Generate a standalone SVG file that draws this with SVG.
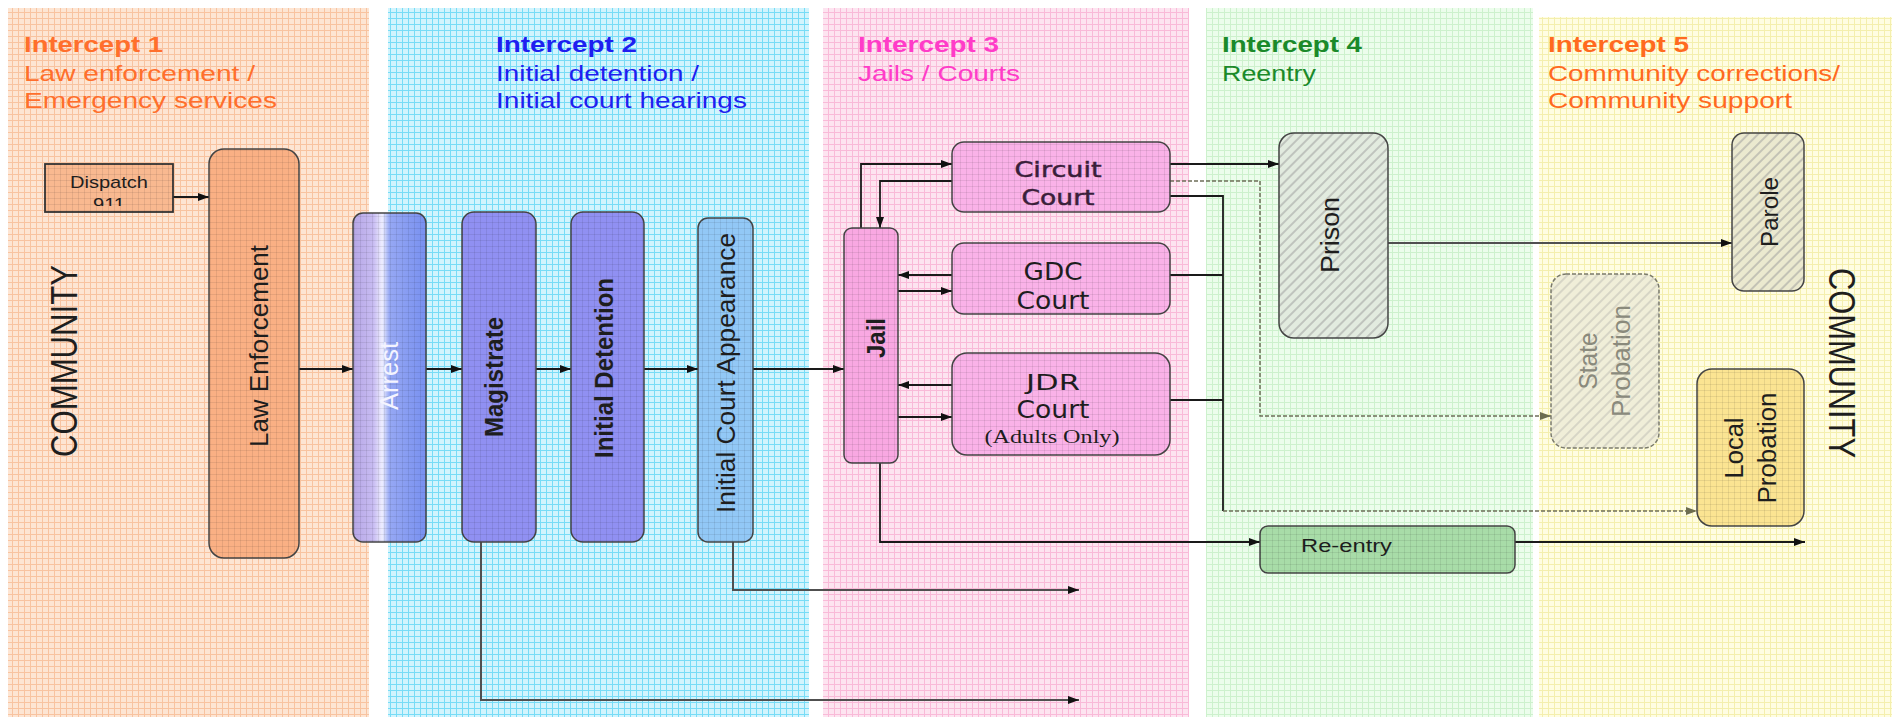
<svg xmlns="http://www.w3.org/2000/svg" width="1892" height="720" viewBox="0 0 1892 720">
<style>
.t{font-family:"Liberation Sans",Arial,sans-serif}
.d{font-family:"DejaVu Sans","Liberation Sans",sans-serif}
.s{font-family:"Liberation Serif","Times New Roman",serif}
.h{font-size:22px}
.b{font-weight:bold}
.nd{stroke:#444;stroke-width:1.5}
.ov{fill:url(#gov);stroke:none}
.hx{fill:url(#hatch);stroke:none}
.c{fill:none;stroke:#1a1a1a;stroke-width:1.8}
.cl{fill:none;stroke:#505050;stroke-width:2}
.cg{fill:none;stroke:#6d6d58;stroke-width:1.5;stroke-dasharray:4 2}
.tx{fill:#1e1e1e}
</style>
<defs>
<pattern id="gO" width="6" height="6" patternUnits="userSpaceOnUse"><rect width="6" height="6" fill="#fde5d3"/><path d="M0,0.5H6M0.5,0V6" stroke="#f8c3a0" stroke-width="1"/></pattern>
<pattern id="gC" width="6" height="6" patternUnits="userSpaceOnUse"><rect width="6" height="6" fill="#d2f4fd"/><path d="M0,0.5H6M0.5,0V6" stroke="#78dcf6" stroke-width="1"/></pattern>
<pattern id="gP" width="6" height="6" patternUnits="userSpaceOnUse"><rect width="6" height="6" fill="#fde4f0"/><path d="M0,0.5H6M0.5,0V6" stroke="#f9bad8" stroke-width="1"/></pattern>
<pattern id="gG" width="6" height="6" patternUnits="userSpaceOnUse"><rect width="6" height="6" fill="#ecfdec"/><path d="M0,0.5H6M0.5,0V6" stroke="#cdf1cd" stroke-width="1"/></pattern>
<pattern id="gY" width="6" height="6" patternUnits="userSpaceOnUse"><rect width="6" height="6" fill="#fffde2"/><path d="M0,0.5H6M0.5,0V6" stroke="#f4efae" stroke-width="1"/></pattern>
<pattern id="gov" width="6" height="6" patternUnits="userSpaceOnUse"><path d="M0,0.5H6M0.5,0V6" stroke="#000" stroke-opacity="0.08" stroke-width="1"/></pattern>
<pattern id="hatch" width="7" height="7" patternUnits="userSpaceOnUse" patternTransform="rotate(45)"><line x1="1" y1="0" x2="1" y2="7" stroke="#9c9c9c" stroke-width="1"/></pattern>
<linearGradient id="gArrest" x1="0" x2="1" y1="0" y2="0">
<stop offset="0" stop-color="#b6a6e6"/>
<stop offset="0.28" stop-color="#c8bcf2"/>
<stop offset="0.4" stop-color="#eeeeff"/>
<stop offset="0.5" stop-color="#96a8f4"/>
<stop offset="1" stop-color="#7890f0"/>
</linearGradient>
<clipPath id="clipD"><rect x="46" y="165" width="126" height="41"/></clipPath>
<marker id="ah" viewBox="0 0 11 8" refX="11" refY="4" markerWidth="11" markerHeight="8" markerUnits="userSpaceOnUse" orient="auto"><path d="M0,0L11,4L0,8z" fill="#111"/></marker>
<marker id="ahg" viewBox="0 0 11 8" refX="11" refY="4" markerWidth="11" markerHeight="8" markerUnits="userSpaceOnUse" orient="auto"><path d="M0,0L11,4L0,8z" fill="#6d6d50"/></marker>
</defs>

<rect width="1892" height="720" fill="#fff"/>

<g id="bands">
<rect x="8" y="8" width="361" height="709" fill="url(#gO)"/>
<rect x="388" y="8" width="421" height="709" fill="url(#gC)"/>
<rect x="823" y="8" width="366" height="709" fill="url(#gP)"/>
<rect x="1206" y="8" width="327" height="709" fill="url(#gG)"/>
<rect x="1539" y="17" width="353" height="700" fill="url(#gY)"/>
</g>

<g id="headings" class="t h">
<text x="24" y="52" class="b" fill="#ff6f2c" textLength="139" lengthAdjust="spacingAndGlyphs">Intercept 1</text>
<text x="24" y="81" fill="#ff6f2c" textLength="231" lengthAdjust="spacingAndGlyphs">Law enforcement /</text>
<text x="24" y="108" fill="#ff6f2c" textLength="253" lengthAdjust="spacingAndGlyphs">Emergency services</text>
<text x="496" y="52" class="b" fill="#1f1ff0" textLength="141" lengthAdjust="spacingAndGlyphs">Intercept 2</text>
<text x="496" y="81" fill="#1f1ff0" textLength="203" lengthAdjust="spacingAndGlyphs">Initial detention /</text>
<text x="496" y="108" fill="#1f1ff0" textLength="251" lengthAdjust="spacingAndGlyphs">Initial court hearings</text>
<text x="858" y="52" class="b" fill="#ff3cc8" textLength="141" lengthAdjust="spacingAndGlyphs">Intercept 3</text>
<text x="858" y="81" fill="#ff3cc8" textLength="162" lengthAdjust="spacingAndGlyphs">Jails / Courts</text>
<text x="1222" y="52" class="b" fill="#1b8a2a" textLength="140" lengthAdjust="spacingAndGlyphs">Intercept 4</text>
<text x="1222" y="81" fill="#1b8a2a" textLength="94" lengthAdjust="spacingAndGlyphs">Reentry</text>
<text x="1548" y="52" class="b" fill="#ff6a1f" textLength="141" lengthAdjust="spacingAndGlyphs">Intercept 5</text>
<text x="1548" y="81" fill="#ff6a1f" textLength="292" lengthAdjust="spacingAndGlyphs">Community corrections/</text>
<text x="1548" y="108" fill="#ff6a1f" textLength="244" lengthAdjust="spacingAndGlyphs">Community support</text>
</g>

<g id="community-left"><text class="t tx" font-size="37" text-anchor="middle" transform="translate(77,361) rotate(-90)" textLength="192" lengthAdjust="spacingAndGlyphs">COMMUNITY</text></g>
<g id="community-right"><text class="t tx" font-size="37" text-anchor="middle" transform="translate(1829,363) rotate(90)" textLength="190" lengthAdjust="spacingAndGlyphs">COMMUNITY</text></g>

<g id="connectors">
<path class="c" d="M173,197H209" marker-end="url(#ah)"/>
<path class="c" d="M299,369H353" marker-end="url(#ah)"/>
<path class="c" d="M426,369H462" marker-end="url(#ah)"/>
<path class="c" d="M536,369H571" marker-end="url(#ah)"/>
<path class="c" d="M644,369H698" marker-end="url(#ah)"/>
<path class="c" d="M753,369H844" marker-end="url(#ah)"/>
<path class="c" d="M861,228V164H952" marker-end="url(#ah)"/>
<path class="c" d="M952,181H880V228" marker-end="url(#ah)"/>
<path class="c" d="M952,275H898" marker-end="url(#ah)"/>
<path class="c" d="M898,291H952" marker-end="url(#ah)"/>
<path class="c" d="M952,385H898" marker-end="url(#ah)"/>
<path class="c" d="M898,417H952" marker-end="url(#ah)"/>
<path class="c" d="M1170,164H1279" marker-end="url(#ah)"/>
<path class="cg" d="M1170,181H1260V416H1551" marker-end="url(#ahg)"/>
<path class="c" d="M1170,196H1223V511"/>
<path class="c" d="M1170,275H1223"/>
<path class="c" d="M1170,400H1223"/>
<path class="cg" d="M1223,511H1697" marker-end="url(#ahg)"/>
<path class="cl" d="M1388,243H1732" marker-end="url(#ah)"/>
<path class="c" d="M880,463V542H1260" marker-end="url(#ah)"/>
<path class="c" d="M1515,542H1805" marker-end="url(#ah)"/>
<path class="cl" d="M733,542V590H1079" marker-end="url(#ah)"/>
<path class="cl" d="M481,542V700H1079" marker-end="url(#ah)"/>
</g>

<g id="dispatch-911">
<rect x="45" y="164" width="128" height="48" fill="#f9b990" stroke="#333" stroke-width="1.8"/>
<rect x="45" y="164" width="128" height="48" class="ov"/>
<text class="t tx" x="109" y="188" font-size="17" text-anchor="middle" textLength="78" lengthAdjust="spacingAndGlyphs">Dispatch</text>
<text class="t tx" x="109" y="210" font-size="17" text-anchor="middle" clip-path="url(#clipD)" textLength="32" lengthAdjust="spacingAndGlyphs">911</text>
</g>

<g id="law-enforcement">
<rect x="209" y="149" width="90" height="409" rx="15" fill="#fab084" class="nd"/>
<rect x="209" y="149" width="90" height="409" rx="15" class="ov"/>
<text class="t tx" font-size="26" text-anchor="middle" transform="translate(268,346) rotate(-90)" textLength="202" lengthAdjust="spacingAndGlyphs">Law Enforcement</text>
</g>

<g id="arrest">
<rect x="353" y="213" width="73" height="329" rx="10" fill="url(#gArrest)" class="nd"/>
<rect x="353" y="213" width="73" height="329" rx="10" class="ov"/>
<text class="t" fill="#f4f4ff" font-size="25" text-anchor="middle" transform="translate(398,376) rotate(-90)" textLength="68" lengthAdjust="spacingAndGlyphs">Arrest</text>
</g>

<g id="magistrate">
<rect x="462" y="212" width="74" height="330" rx="12" fill="#9090f2" class="nd"/>
<rect x="462" y="212" width="74" height="330" rx="12" class="ov"/>
<text class="t tx b" font-size="25" text-anchor="middle" transform="translate(503,377) rotate(-90)" textLength="120" lengthAdjust="spacingAndGlyphs">Magistrate</text>
</g>

<g id="initial-detention">
<rect x="571" y="212" width="73" height="330" rx="12" fill="#9090f2" class="nd"/>
<rect x="571" y="212" width="73" height="330" rx="12" class="ov"/>
<text class="t tx b" font-size="26" text-anchor="middle" transform="translate(613,368) rotate(-90)" textLength="180" lengthAdjust="spacingAndGlyphs">Initial Detention</text>
</g>

<g id="initial-court-appearance">
<rect x="698" y="218" width="55" height="324" rx="10" fill="#92c8f6" class="nd"/>
<rect x="698" y="218" width="55" height="324" rx="10" class="ov"/>
<text class="t tx" font-size="25" text-anchor="middle" transform="translate(735,373) rotate(-90)" textLength="280" lengthAdjust="spacingAndGlyphs">Initial Court Appearance</text>
</g>

<g id="jail">
<rect x="844" y="228" width="54" height="235" rx="8" fill="#f9a8e2" class="nd"/>
<rect x="844" y="228" width="54" height="235" rx="8" class="ov"/>
<text class="t tx b" font-size="26" text-anchor="middle" transform="translate(885,338) rotate(-90)" textLength="40" lengthAdjust="spacingAndGlyphs">Jail</text>
</g>

<g id="circuit-court">
<rect x="952" y="142" width="218" height="70" rx="12" fill="#fab2e8" class="nd"/>
<rect x="952" y="142" width="218" height="70" rx="12" class="ov"/>
<text class="d" fill="#3a1e3a" stroke="#3a1e3a" stroke-width="0.5" x="1058" y="177" font-size="21" text-anchor="middle" textLength="87" lengthAdjust="spacingAndGlyphs">Circuit</text>
<text class="d" fill="#3a1e3a" stroke="#3a1e3a" stroke-width="0.5" x="1058" y="205" font-size="21" text-anchor="middle" textLength="73" lengthAdjust="spacingAndGlyphs">Court</text>
</g>

<g id="gdc-court">
<rect x="952" y="243" width="218" height="71" rx="12" fill="#fab2e8" class="nd"/>
<rect x="952" y="243" width="218" height="71" rx="12" class="ov"/>
<text class="d tx" x="1053" y="280" font-size="24" text-anchor="middle" textLength="59" lengthAdjust="spacingAndGlyphs">GDC</text>
<text class="d tx" x="1053" y="309" font-size="24" text-anchor="middle" textLength="73" lengthAdjust="spacingAndGlyphs">Court</text>
</g>

<g id="jdr-court">
<rect x="952" y="353" width="218" height="102" rx="15" fill="#fab2e8" class="nd"/>
<rect x="952" y="353" width="218" height="102" rx="15" class="ov"/>
<text class="d tx" x="1053" y="390" font-size="22" text-anchor="middle" textLength="54" lengthAdjust="spacingAndGlyphs">JDR</text>
<text class="d tx" x="1053" y="418" font-size="24" text-anchor="middle" textLength="73" lengthAdjust="spacingAndGlyphs">Court</text>
<text class="s tx" x="1052" y="443" font-size="18" text-anchor="middle" textLength="135" lengthAdjust="spacingAndGlyphs">(Adults Only)</text>
</g>

<g id="prison">
<rect x="1279" y="133" width="109" height="205" rx="15" fill="#e2ebdf"/>
<rect x="1279" y="133" width="109" height="205" rx="15" class="hx"/>
<rect x="1279" y="133" width="109" height="205" rx="15" fill="none" class="nd"/>
<text class="t tx" font-size="26" text-anchor="middle" transform="translate(1339,235) rotate(-90)" textLength="76" lengthAdjust="spacingAndGlyphs">Prison</text>
</g>

<g id="parole">
<rect x="1732" y="133" width="72" height="158" rx="12" fill="#ebe9cf"/>
<rect x="1732" y="133" width="72" height="158" rx="12" class="hx"/>
<rect x="1732" y="133" width="72" height="158" rx="12" fill="none" class="nd"/>
<text class="t tx" font-size="23" text-anchor="middle" transform="translate(1778,212) rotate(-90)" textLength="70" lengthAdjust="spacingAndGlyphs">Parole</text>
</g>

<g id="state-probation">
<rect x="1551" y="274" width="108" height="174" rx="15" fill="#f0eed8"/>
<rect x="1551" y="274" width="108" height="174" rx="15" class="hx" opacity="0.6"/>
<rect x="1551" y="274" width="108" height="174" rx="15" fill="none" stroke="#7a7a6a" stroke-width="1.5" stroke-dasharray="4 2"/>
<text class="t" fill="#8a8a7c" font-size="26" text-anchor="middle" transform="translate(1597,361) rotate(-90)" textLength="57" lengthAdjust="spacingAndGlyphs">State</text>
<text class="t" fill="#8a8a7c" font-size="26" text-anchor="middle" transform="translate(1630,361) rotate(-90)" textLength="112" lengthAdjust="spacingAndGlyphs">Probation</text>
</g>

<g id="local-probation">
<rect x="1697" y="369" width="107" height="157" rx="15" fill="#fbe492" class="nd"/>
<rect x="1697" y="369" width="107" height="157" rx="15" class="ov"/>
<text class="t tx" font-size="26" text-anchor="middle" transform="translate(1743,448) rotate(-90)" textLength="61" lengthAdjust="spacingAndGlyphs">Local</text>
<text class="t tx" font-size="26" text-anchor="middle" transform="translate(1776,448) rotate(-90)" textLength="111" lengthAdjust="spacingAndGlyphs">Probation</text>
</g>

<g id="re-entry">
<rect x="1260" y="526" width="255" height="47" rx="8" fill="#a8dca8" class="nd"/>
<rect x="1260" y="526" width="255" height="47" rx="8" class="ov"/>
<text class="t tx" x="1301" y="552" font-size="18" textLength="91" lengthAdjust="spacingAndGlyphs">Re-entry</text>
</g>
</svg>
